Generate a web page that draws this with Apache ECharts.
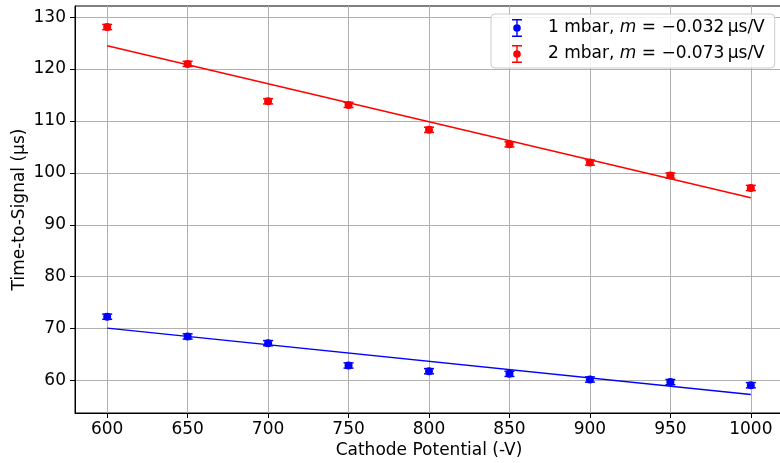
<!DOCTYPE html>
<html>
<head>
<meta charset="utf-8">
<script src="https://cdn.jsdelivr.net/npm/echarts@6/dist/echarts.min.js"></script>
<style>
  html, body { margin: 0; padding: 0; background: #fff; }
  #chart { width: 780px; height: 463px; }
</style>
</head>
<body>
<div id="chart"></div>
<script>
// Cathode potential (-V) for each measurement
const potentials = [600, 650, 700, 750, 800, 850, 900, 950, 1000];

// Measured time-to-signal (µs) at 1 mbar and 2 mbar
const time1mbar = [72.3, 68.5, 67.2, 62.9, 61.8, 61.3, 60.2, 59.7, 59.1];
const time2mbar = [128.1, 121.0, 113.8, 113.1, 108.3, 105.5, 102.0, 99.5, 97.1];

// Uncertainty on each measurement (µs)
const err1mbar = [0.5, 0.5, 0.5, 0.5, 0.5, 0.5, 0.5, 0.5, 0.5];
const err2mbar = [0.5, 0.5, 0.5, 0.5, 0.5, 0.5, 0.5, 0.5, 0.5];

// Linear fit end points over the measured range
const fitX = [600, 1000];
const fit1mbar = [70.1, 57.3];
const fit2mbar = [124.5, 95.2];

// Fitted slopes shown in the legend (µs/V)
const slope1mbar = '−0.032';
const slope2mbar = '−0.073';

// Axis ticks
const xTicks = [600, 650, 700, 750, 800, 850, 900, 950, 1000];
const yTicks = [60, 70, 80, 90, 100, 110, 120, 130];

const BLUE = '#0000ff';
const RED = '#ff0000';
const FONT = 'DejaVu Sans';
const FS = 17;

const name1 = '1 mbar';
const name2 = '2 mbar';
const legendText = { [name1]: slope1mbar, [name2]: slope2mbar };

// Error-bar glyph used for the legend icons: caps, stem and a dot
const errIcon = 'path://M0,0H10V1.4H0Z M4.3,1.4H5.7V6H4.3Z M4.3,12H5.7V16.6H4.3Z M0,16.6H10V18H0Z ' +
  'M8.8,9A3.8,3.8 0 1 1 1.2,9A3.8,3.8 0 1 1 8.8,9Z';

function pairs(xs, ys) { return xs.map((x, i) => [x, ys[i]]); }
function triples(xs, ys, es) { return xs.map((x, i) => [x, ys[i], es[i]]); }

function errorBars(color) {
  return function (params, api) {
    const x = api.value(0), y = api.value(1), e = api.value(2);
    const top = api.coord([x, y + e]);
    const bot = api.coord([x, y - e]);
    const cap = 5;
    const style = { stroke: color, lineWidth: 1.5 };
    return {
      type: 'group',
      children: [
        { type: 'line', shape: { x1: top[0], y1: top[1], x2: bot[0], y2: bot[1] }, style },
        { type: 'line', shape: { x1: top[0] - cap, y1: top[1], x2: top[0] + cap, y2: top[1] }, style },
        { type: 'line', shape: { x1: bot[0] - cap, y1: bot[1], x2: bot[0] + cap, y2: bot[1] }, style }
      ]
    };
  };
}

const chart = echarts.init(document.getElementById('chart'), null, { renderer: 'canvas' });

const axisLine = { show: true, lineStyle: { color: '#000', width: 1 } };
const splitLine = { show: true, lineStyle: { color: '#b0b0b0', width: 1 } };

chart.setOption({
  animation: false,
  backgroundColor: '#fff',
  textStyle: { fontFamily: FONT },
  grid: {
    left: 75, top: 6, width: 708, height: 407, containLabel: false,
    outerBoundsMode: 'none',
    show: true, borderColor: '#000', borderWidth: 1, backgroundColor: 'transparent'
  },
  xAxis: {
    type: 'value',
    min: 580,
    max: 1020,
    name: 'Cathode Potential (-V)',
    nameLocation: 'middle',
    nameGap: 29,
    nameMoveOverlap: false,
    nameTextStyle: { fontFamily: FONT, fontSize: FS, color: '#000' },
    axisLine,
    axisTick: { show: true, length: 5, inside: false, customValues: xTicks, lineStyle: { color: '#000' } },
    axisLabel: {
      customValues: xTicks, fontFamily: FONT, fontSize: FS, color: '#000', margin: 8,
      formatter: v => String(v)
    },
    splitLine
  },
  yAxis: {
    type: 'value',
    min: 53.75,
    max: 132.15,
    name: 'Time-to-Signal (µs)',
    nameLocation: 'middle',
    nameGap: 47,
    nameMoveOverlap: false,
    nameRotate: 90,
    nameTextStyle: { fontFamily: FONT, fontSize: FS, color: '#000' },
    axisLine,
    axisTick: { show: true, length: 5, inside: false, customValues: yTicks, lineStyle: { color: '#000' } },
    axisLabel: {
      customValues: yTicks, fontFamily: FONT, fontSize: FS, color: '#000', margin: 9,
      formatter: v => String(v)
    },
    splitLine
  },
  legend: {
    orient: 'vertical',
    left: 491,
    top: 14,
    padding: [5, 10, 5, 21],
    itemGap: 8,
    itemWidth: 10,
    itemHeight: 18,
    backgroundColor: 'rgba(255,255,255,0.85)',
    borderColor: '#cccccc',
    borderWidth: 1,
    borderRadius: 4,
    data: [
      { name: name1, icon: errIcon, itemStyle: { color: BLUE } },
      { name: name2, icon: errIcon, itemStyle: { color: RED } }
    ],
    formatter: function (name) {
      return '{a|' + name + ', }{i|m}{a| = ' + legendText[name] + '\u2009µs/V}';
    },
    textStyle: {
      fontFamily: FONT,
      fontSize: FS,
      color: '#000',
      padding: [0, 0, 0, 21],
      rich: {
        a: { fontFamily: FONT, fontSize: FS, color: '#000' },
        i: { fontFamily: FONT, fontSize: FS, color: '#000', fontStyle: 'italic' }
      }
    }
  },
  series: [
    {
      name: name1 + ' fit',
      type: 'line',
      data: pairs(fitX, fit1mbar),
      showSymbol: false,
      lineStyle: { color: BLUE, width: 1.5 },
      z: 2
    },
    {
      name: name2 + ' fit',
      type: 'line',
      data: pairs(fitX, fit2mbar),
      showSymbol: false,
      lineStyle: { color: RED, width: 1.5 },
      z: 2
    },
    {
      name: name1,
      type: 'custom',
      renderItem: errorBars(BLUE),
      data: triples(potentials, time1mbar, err1mbar),
      itemStyle: { color: BLUE },
      z: 3
    },
    {
      name: name1,
      type: 'scatter',
      data: pairs(potentials, time1mbar),
      symbol: 'circle',
      symbolSize: 8,
      itemStyle: { color: BLUE, opacity: 1 },
      z: 4
    },
    {
      name: name2,
      type: 'custom',
      renderItem: errorBars(RED),
      data: triples(potentials, time2mbar, err2mbar),
      itemStyle: { color: RED },
      z: 3
    },
    {
      name: name2,
      type: 'scatter',
      data: pairs(potentials, time2mbar),
      symbol: 'circle',
      symbolSize: 8,
      itemStyle: { color: RED, opacity: 1 },
      z: 4
    }
  ]
});
</script>
</body>
</html>
